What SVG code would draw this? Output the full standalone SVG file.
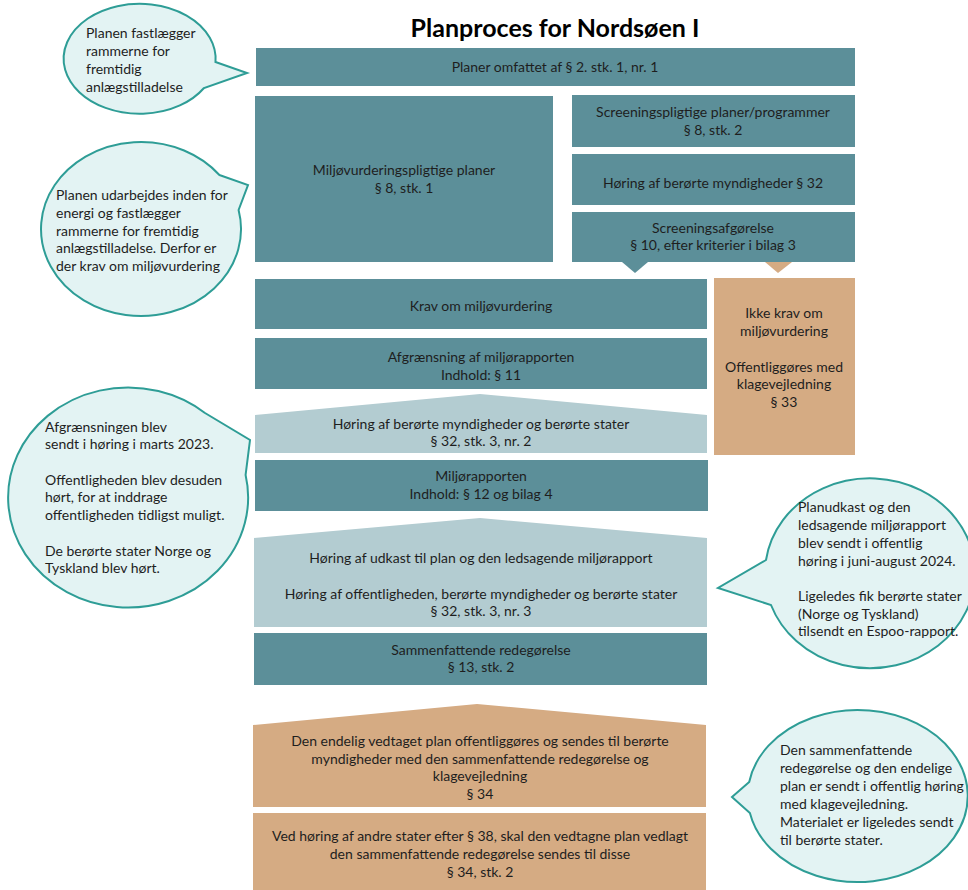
<svg xmlns="http://www.w3.org/2000/svg" width="968" height="890" viewBox="0 0 968 890">
<style>
.teal{fill:#5c8f99}
.light{fill:#b3ccd1}
.tan{fill:#d5ab83}
.bub{fill:#e3f3f3;stroke:#2e9d96;stroke-width:2}
text{font-family:Lato,"Liberation Sans",sans-serif;font-size:14px;fill:#1e1e1e}
.c{text-anchor:middle}
.title{font-size:25px;font-weight:bold;fill:#000}
</style>
<rect width="968" height="890" fill="#fff"/>
<text class="title c" x="555" y="37">Planproces for Nordsøen I</text>

<g id="connectors">
<polygon class="teal" points="622,262 648,262 635,273"/>
<polygon class="tan" points="765,262 792,262 778,273"/>
</g>

<g id="n-planer"><rect class="teal" x="256" y="48" width="599" height="38"/>
<text class="c" x="555" y="72">Planer omfattet af § 2. stk. 1, nr. 1</text></g>

<g id="n-miljopligtige"><rect class="teal" x="255" y="96" width="298" height="166"/>
<text class="c" x="404" y="175">Miljøvurderingspligtige planer</text>
<text class="c" x="404" y="193">§ 8, stk. 1</text></g>

<g id="n-screeningspligtige"><rect class="teal" x="572" y="95" width="283" height="52"/>
<text class="c" x="713" y="117">Screeningspligtige planer/programmer</text>
<text class="c" x="713" y="135">§ 8, stk. 2</text></g>

<g id="n-horing32"><rect class="teal" x="572" y="154" width="283" height="51"/>
<text class="c" x="713" y="188">Høring af berørte myndigheder § 32</text></g>

<g id="n-screeningsafg"><rect class="teal" x="572" y="212" width="283" height="50"/>
<text class="c" x="713" y="233">Screeningsafgørelse</text>
<text class="c" x="713" y="250">§ 10, efter kriterier i bilag 3</text></g>

<g id="n-krav"><rect class="teal" x="255" y="279" width="452" height="50"/>
<text class="c" x="481" y="311">Krav om miljøvurdering</text></g>

<g id="n-ikkekrav"><rect class="tan" x="714" y="278" width="141" height="177"/>
<text class="c" x="784" y="318">Ikke krav om</text>
<text class="c" x="784" y="336">miljøvurdering</text>
<text class="c" x="784" y="372">Offentliggøres med</text>
<text class="c" x="784" y="389">klagevejledning</text>
<text class="c" x="784" y="407">§ 33</text></g>

<g id="n-afgraensning"><rect class="teal" x="255" y="338" width="452" height="51"/>
<text class="c" x="481" y="362">Afgrænsning af miljørapporten</text>
<text class="c" x="481" y="380">Indhold: § 11</text></g>

<g id="n-horing-stater"><polygon class="light" points="255,415 480,394 707,415 707,453 255,453"/>
<text class="c" x="481" y="429">Høring af berørte myndigheder og berørte stater</text>
<text class="c" x="481" y="446">§ 32, stk. 3, nr. 2</text></g>

<g id="n-miljorapport"><rect class="teal" x="255" y="460" width="453" height="51"/>
<text class="c" x="481" y="481">Miljørapporten</text>
<text class="c" x="481" y="499">Indhold: § 12 og bilag 4</text></g>

<g id="n-horing-udkast"><polygon class="light" points="254,538 480,518 707,538 707,627 254,627"/>
<text class="c" x="481" y="563">Høring af udkast til plan og den ledsagende miljørapport</text>
<text class="c" x="481" y="599">Høring af offentligheden, berørte myndigheder og berørte stater</text>
<text class="c" x="481" y="616">§ 32, stk. 3, nr. 3</text></g>

<g id="n-sammenfattende"><rect class="teal" x="254" y="633" width="453" height="52"/>
<text class="c" x="481" y="655">Sammenfattende redegørelse</text>
<text class="c" x="481" y="672">§ 13, stk. 2</text></g>

<g id="n-endelig"><polygon class="tan" points="253,725 477,704 706,725 706,807 253,807"/>
<text class="c" x="480" y="746">Den endelig vedtaget plan offentliggøres og sendes til berørte</text>
<text class="c" x="480" y="764">myndigheder med den sammenfattende redegørelse og</text>
<text class="c" x="480" y="781">klagevejledning</text>
<text class="c" x="480" y="799">§ 34</text></g>

<g id="n-andre-stater"><rect class="tan" x="253" y="813" width="453" height="80"/>
<text class="c" x="480" y="841">Ved høring af andre stater efter § 38, skal den vedtagne plan vedlagt</text>
<text class="c" x="480" y="859">den sammenfattende redegørelse sendes til disse</text>
<text class="c" x="480" y="877">§ 34, stk. 2</text></g>

<g id="b-1"><path class="bub" d="M215.5,62 L247,73 L204,88 A76,55 0 1 1 215.5,62 Z"/>
<text x="86" y="38">Planen fastlægger</text>
<text x="86" y="56">rammerne for</text>
<text x="86" y="74">fremtidig</text>
<text x="86" y="92">anlægstilladelse</text></g>

<g id="b-2"><path class="bub" d="M219.4,175 L248,185 L238.6,210 A100,87 0 1 1 219.4,175 Z"/>
<text x="56" y="200">Planen udarbejdes inden for</text>
<text x="56" y="218">energi og fastlægger</text>
<text x="56" y="236">rammerne for fremtidig</text>
<text x="56" y="253">anlægstilladelse. Derfor er</text>
<text x="56" y="271">der krav om miljøvurdering</text></g>

<g id="b-3"><path class="bub" d="M205,413 L250,440 L245.6,475 A120,110 0 1 1 205,413 Z"/>
<text x="45" y="432">Afgrænsningen blev</text>
<text x="45" y="449">sendt i høring i marts 2023.</text>
<text x="45" y="485">Offentligheden blev desuden</text>
<text x="45" y="502">hørt, for at inddrage</text>
<text x="45" y="520">offentligheden tidligst muligt.</text>
<text x="45" y="556">De berørte stater Norge og</text>
<text x="45" y="573">Tyskland blev hørt.</text></g>

<g id="b-4"><path class="bub" d="M766,560 L718,588 L771,605 A105,95 0 1 0 766,560 Z"/>
<text x="798" y="512">Planudkast og den</text>
<text x="798" y="530">ledsagende miljørapport</text>
<text x="798" y="548">blev sendt i offentlig</text>
<text x="798" y="566">høring i juni-august 2024.</text>
<text x="798" y="601">Ligeledes fik berørte stater</text>
<text x="798" y="619">(Norge og Tyskland)</text>
<text x="798" y="636">tilsendt en Espoo-rapport.</text></g>

<g id="b-5"><path class="bub" d="M749.2,782 L732,797 L749.9,813 A110,86 0 1 0 749.2,782 Z"/>
<text x="780" y="755">Den sammenfattende</text>
<text x="780" y="773">redegørelse og den endelige</text>
<text x="780" y="791">plan er sendt i offentlig høring</text>
<text x="780" y="809">med klagevejledning.</text>
<text x="780" y="827">Materialet er ligeledes sendt</text>
<text x="780" y="845">til berørte stater.</text></g>
</svg>
